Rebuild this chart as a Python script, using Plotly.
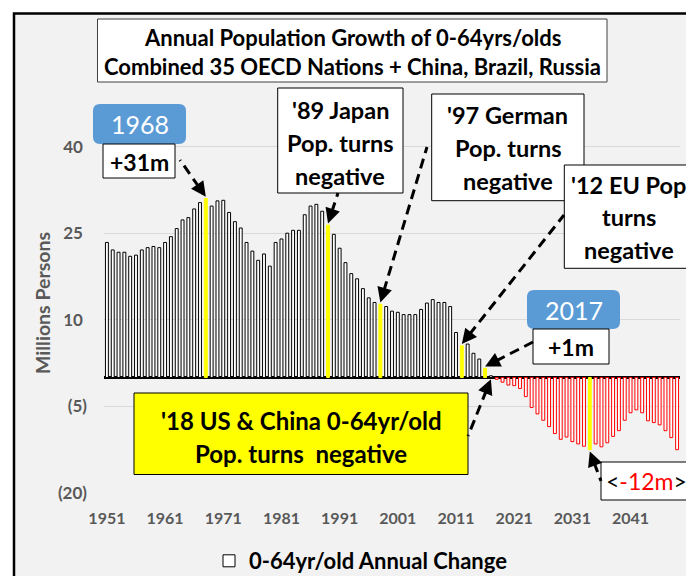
import plotly.graph_objects as go

# ---------------- data ----------------
years = list(range(1951, 2050))
growth = [
    23.4, 22.1, 21.7, 21.7, 21.0, 21.2, 22.1, 22.5, 22.7, 22.5,      # 1951-1960
    23.4, 24.4, 25.8, 27.3, 27.7, 29.2, 30.3, 31.0, 29.7, 30.6,      # 1961-1970
    30.7, 28.6, 27.0, 25.9, 23.4, 21.9, 20.3, 21.4, 19.3, 23.4,      # 1971-1980
    24.0, 25.0, 25.5, 25.5, 28.2, 29.7, 30.0, 28.8, 26.4, 24.8,      # 1981-1990
    22.4, 19.9, 18.0, 17.1, 15.4, 13.8, 13.0, 12.7, 12.3, 11.5,      # 1991-2000
    11.3, 10.9, 10.9, 10.9, 11.8, 12.9, 13.5, 13.0, 13.0, 12.3,      # 2001-2010
    7.8, 5.5, 5.8, 4.2, 3.2, 1.6, 0.3, -0.3, -0.8, -1.3,             # 2011-2020
    -1.4, -1.9, -3.3, -5.2, -6.3, -7.4, -8.5, -9.7, -10.7, -10.3,    # 2021-2030
    -11.1, -11.5, -11.9, -12.5, -11.5, -12.0, -11.3, -10.2, -9.2, -7.4,  # 2031-2040
    -6.1, -5.6, -6.1, -7.5, -7.8, -8.2, -9.2, -10.4, -12.5,          # 2041-2049
]
highlight_years = [1968, 1989, 1998, 2012, 2016, 2034]
x_tick_vals = list(range(1951, 2042, 10))
y_tick_vals = [40, 25, 10, -5, -20]
y_tick_text = ["40\u00a0", "25\u00a0", "10\u00a0", "(5)", "(20)"]
series_name = "0-64yr/old Annual Change"
y_title = "Millions Persons"

# ---------------- geometry helpers (page pixels) ----------------
PAGE_OFF = 8                      # default body margin of the html page
W, H = 694 - PAGE_OFF, 576 - PAGE_OFF
PL, PT, PR, PB = 104, 60, 680, 493   # plot area on the page
ML, MT = PL - PAGE_OFF, PT - PAGE_OFF
MR, MB = PAGE_OFF + W - PR, PAGE_OFF + H - PB
PW, PH = PR - PL, PB - PT
XR = [1950.5, 2049.5]
YR = [-20, 55]
FONT = "Lato, 'Open Sans', sans-serif"


def fx(px):
    return (px - PL) / PW


def fy(py):
    return (PB - py) / PH


def data_px(xv, yv):
    px = PL + (xv - XR[0]) / (XR[1] - XR[0]) * PW
    py = PT + (YR[1] - yv) / (YR[1] - YR[0]) * PH
    return px, py


# ---------------- bars ----------------
fills, lines = [], []
for yr, v in zip(years, growth):
    if yr in highlight_years:
        fills.append("#ffff00")
        lines.append("#ffff00")
    elif v >= 0:
        fills.append("#ffffff")
        lines.append("#000000")
    else:
        fills.append("#ffffff")
        lines.append("#ff0000")

fig = go.Figure()
fig.add_trace(go.Bar(
    x=years, y=growth, width=0.5, name=series_name, showlegend=True,
    marker=dict(color=fills, line=dict(color=lines, width=1)),
))

shapes = []
annotations = []

# outer chart frame
shapes.append(dict(type="rect", xref="paper", yref="paper", layer="below",
                   x0=fx(14), x1=fx(720), y0=fy(600), y1=fy(13.5),
                   fillcolor="#f2f2f2", line=dict(color="#000000", width=2.5)))


def rounded(x0, y0, x1, y1, r, color):
    rx, ry = r / PW, r / PH
    X0, X1, Y0, Y1 = fx(x0), fx(x1), fy(y1), fy(y0)
    p = (f"M{X0+rx},{Y0} L{X1-rx},{Y0} Q{X1},{Y0} {X1},{Y0+ry} "
         f"L{X1},{Y1-ry} Q{X1},{Y1} {X1-rx},{Y1} L{X0+rx},{Y1} "
         f"Q{X0},{Y1} {X0},{Y1-ry} L{X0},{Y0+ry} Q{X0},{Y0} {X0+rx},{Y0} Z")
    shapes.append(dict(type="path", xref="paper", yref="paper", path=p,
                       fillcolor=color, line=dict(width=0), layer="above"))


def box(x0, y0, x1, y1, fill="#ffffff", border="#000000", bw=1):
    shapes.append(dict(type="rect", xref="paper", yref="paper", layer="above",
                       x0=fx(x0), x1=fx(x1), y0=fy(y1), y1=fy(y0),
                       fillcolor=fill, line=dict(color=border, width=bw)))


def text(t, cx, cy, size, color="#000000", weight=700, angle=0):
    annotations.append(dict(text=t, x=fx(cx), y=fy(cy), xref="paper", yref="paper",
                            xanchor="center", yanchor="middle", showarrow=False,
                            textangle=angle,
                            font=dict(family=FONT, size=size, color=color, weight=weight)))


BOX_FS = 23.5

# y axis title
text(y_title, 42, 303, 19.5, color="#595959", angle=-90)

# title box
box(97.5, 19, 607, 82, border="#404040")
text("Annual Population Growth of 0-64yrs/olds", 352, 37.5, 22)
text("Combined 35 OECD Nations + China, Brazil, Russia", 352, 66.5, 22)

# 1968 peak
rounded(93, 104, 186, 144, 7, "#5b9bd5")
text("1968", 139.5, 124.5, 25, color="#ffffff", weight=400)
box(103, 144, 175, 178)
text("+31m", 139, 161.5, 23)

# Japan
box(277.7, 88, 403, 193)
for t, cy in [("'89 Japan", 110), ("Pop. turns", 143), ("negative", 175.5)]:
    text(t, 340.3, cy, BOX_FS)

# Germany
box(431.7, 94, 584, 200.7)
for t, cy in [("'97 German", 115), ("Pop. turns", 148), ("negative", 181)]:
    text(t, 507.8, cy, BOX_FS)

# EU
box(564.3, 165, 692.7, 268.3)
for t, cy in [("'12 EU Pop", 185), ("turns", 217), ("negative", 250)]:
    text(t, 628.5, cy, BOX_FS)

# 2017
rounded(527, 290, 620, 329, 7, "#5b9bd5")
text("2017", 573.5, 309.5, 25, color="#ffffff", weight=400)
box(533, 329, 609, 364)
text("+1m", 571, 346.5, 23)

# US & China
box(134, 393, 468, 474.5, fill="#ffff00")
text("'18 US &amp; China 0-64yr/old", 301, 420, 24)
text("Pop. turns  negative", 301, 453, 24)

# trough label
box(601, 462, 720, 500)
text("&lt;<span style='color:#ff0000'>-12m</span>&gt;", 646, 481, 23, weight=400)

# ---------------- arrows (tip on a bar, tail at a label) ----------------
def val(yr):
    return growth[years.index(yr)]

arrow_specs = [
    (1968, val(1968) + 0.3, (180, 160)),
    (1989, val(1989) + 0.3, (338, 193)),
    (1998, val(1998) + 0.3, (427, 147)),
    (2012, val(2012) + 0.3, (564, 215)),
    (2016, val(2016) + 0.3, (533, 342)),
    (2017, -0.3, (468, 436)),
    (2034, val(2034) - 0.3, (601, 481)),
]
for xv, yv, (tx, ty) in arrow_specs:
    px, py = data_px(xv, yv)
    dx, dy = tx - px, ty - py
    L = (dx * dx + dy * dy) ** 0.5
    ux, uy = dx / L, dy / L
    shapes.append(dict(type="line", xref="x", yref="y", xsizemode="pixel", ysizemode="pixel",
                       xanchor=xv, yanchor=yv, x0=ux * 12, y0=-uy * 12, x1=dx, y1=-dy,
                       layer="above", line=dict(color="#000000", width=3, dash="10px,6px")))
    annotations.append(dict(x=xv, y=yv, xref="x", yref="y", text="", showarrow=True,
                            ax=ux * 16, ay=uy * 16, arrowhead=2, arrowsize=1,
                            arrowwidth=3, arrowcolor="#000000", standoff=0))

fig.update_layout(
    width=W, height=H,
    margin=dict(l=ML, r=MR, t=MT, b=MB, pad=0, autoexpand=False),
    paper_bgcolor="#ffffff", plot_bgcolor="rgba(0,0,0,0)",
    font=dict(family=FONT),
    showlegend=True,
    legend=dict(orientation="h", x=fx(361), xanchor="center", y=fy(561), yanchor="middle",
                bgcolor="rgba(0,0,0,0)", itemwidth=30,
                font=dict(family=FONT, size=22, color="#000000", weight=700)),
    xaxis=dict(range=XR, tickvals=x_tick_vals, showgrid=False, zeroline=False, showline=False,
               ticks="", ticklabelstandoff=14,
               tickfont=dict(family=FONT, size=16, color="#595959", weight=700)),
    yaxis=dict(range=YR, tickvals=y_tick_vals, ticktext=y_tick_text, showgrid=True,
               gridcolor="#d9d9d9", gridwidth=1, zeroline=True, zerolinecolor="#000000",
               zerolinewidth=2.5, showline=False, ticks="", ticklabelstandoff=16,
               tickfont=dict(family=FONT, size=17, color="#595959", weight=700)),
    shapes=shapes,
    annotations=annotations,
)

fig.write_html("out.html")
